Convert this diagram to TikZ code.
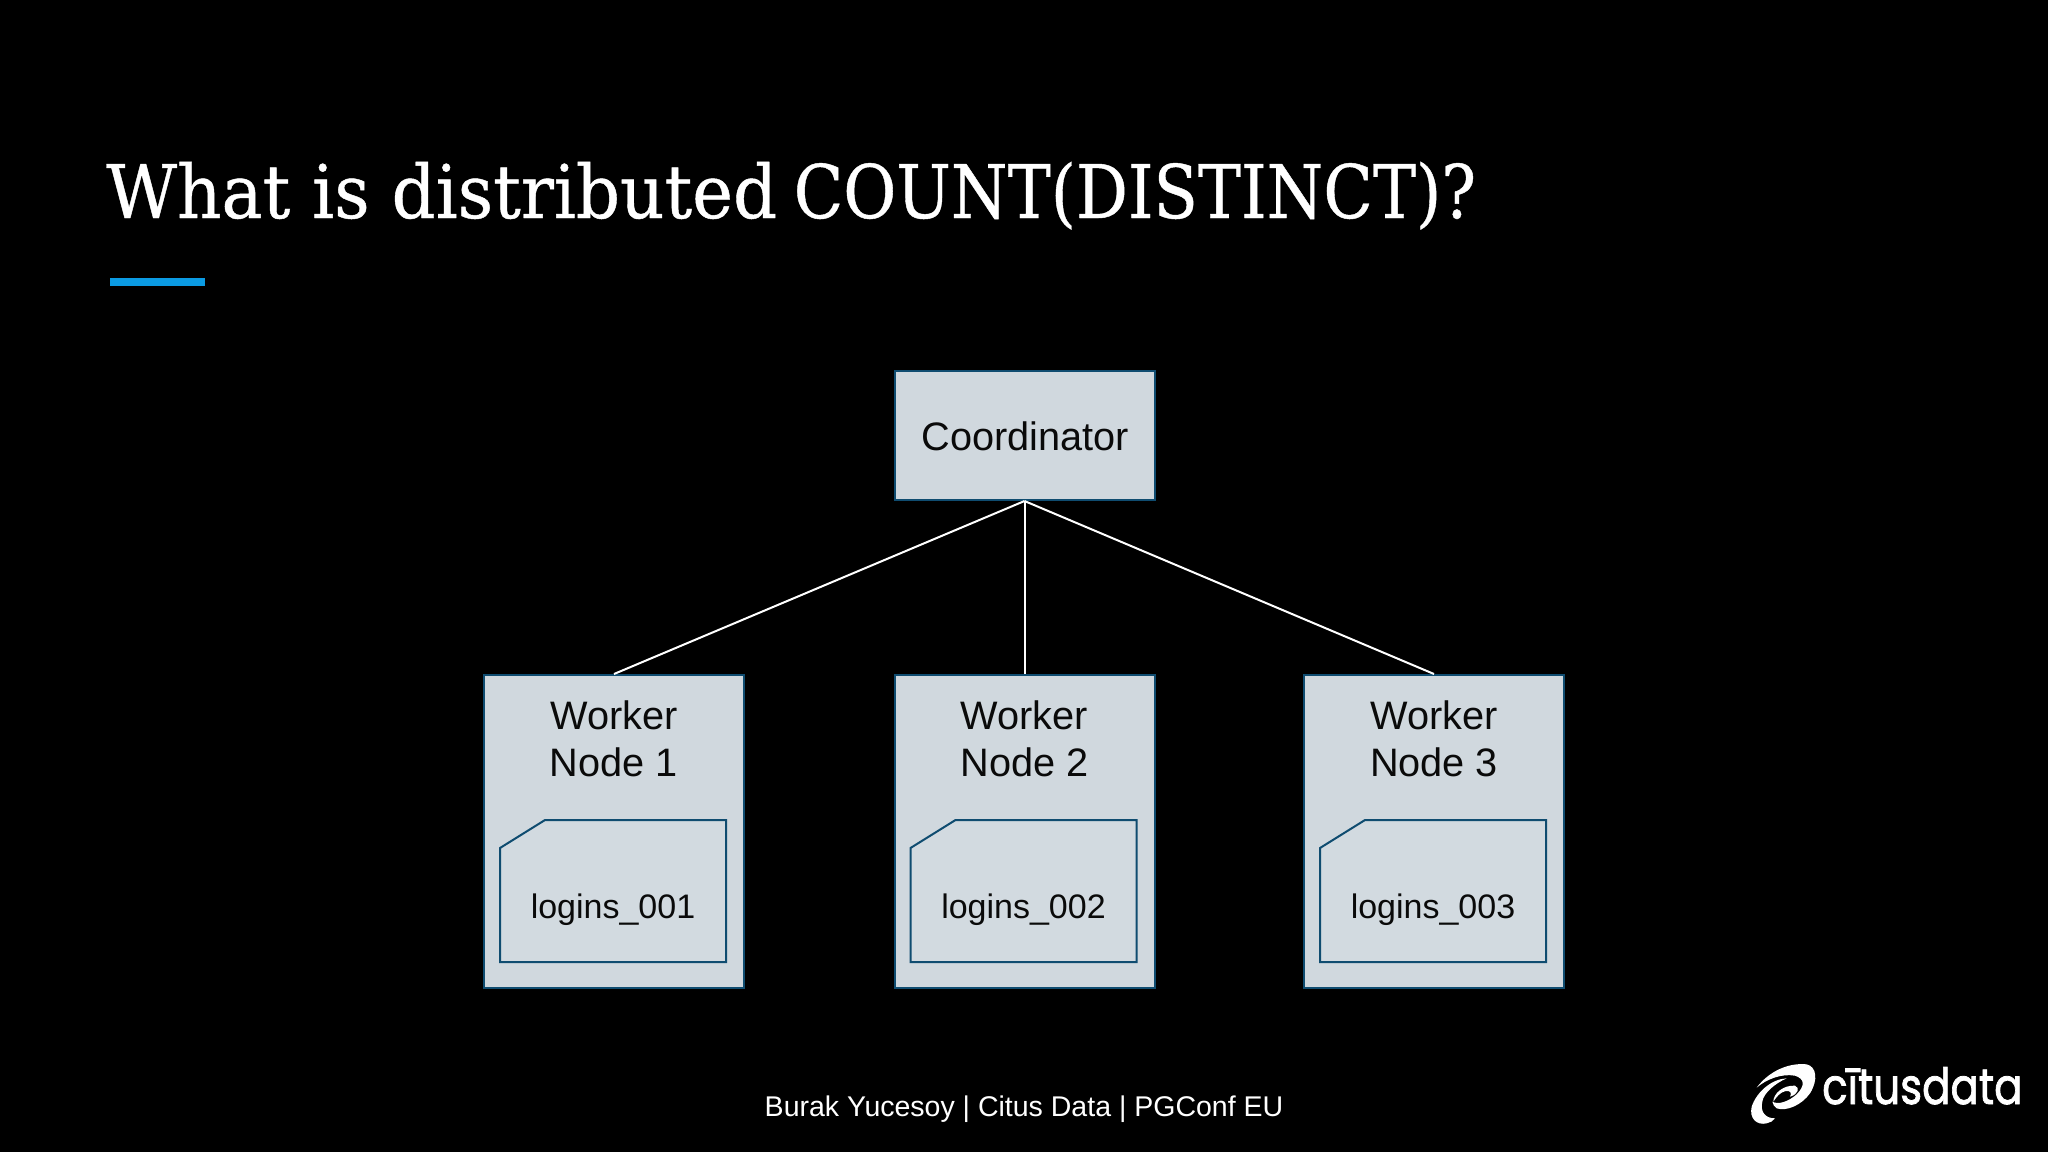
\documentclass[tikz,border=0pt]{standalone}
\usepackage{fontspec}
\setmainfont{Liberation Sans}
\newfontfamily\titlefont{DejaVu Serif}
\newfontfamily\logofont{Poppins}
\definecolor{boxfill}{HTML}{D0D8DE}
\definecolor{boxline}{HTML}{0F4C70}
\definecolor{accent}{HTML}{0B9BE3}
\definecolor{ink}{HTML}{0A0A0A}
\tikzset{
  box/.style={draw=boxline,fill=boxfill,line width=2pt,inner sep=0pt,minimum width=260pt},
  label/.style={text=ink,inner sep=0pt,align=center,anchor=base},
  link/.style={draw=white,line width=2pt},
  shard/.style={draw=boxline,line width=2pt,line join=miter}
}
\begin{document}
\begin{tikzpicture}[x=1pt,y=-1pt]
\path[use as bounding box,fill=black] (0,0) rectangle (2048,1152);
\node[anchor=base west,inner sep=0pt,text=white] (title) at (106,218)
  {\titlefont\fontsize{74}{80}\selectfont\addfontfeature{FakeBold=0.6}\scalebox{0.932}[1]{What is distributed} \hspace{-7pt}\scalebox{0.875}[1]{COUNT(DISTINCT)?}};
\fill[accent] (110,278) rectangle (205,286);

\node[box,minimum height=129pt] (coord) at (1024.5,435.5) {};
\node[label] (coordt) at (1025.5,450) {\fontsize{39.7}{39}\selectfont Coordinator};

\foreach \n/\cx in {1/614,2/1024.5,3/1434}{
  \node[box,minimum height=313pt] (w\n) at (\cx,831.5) {};
  \node[label] (w\n a) at (\cx,729) {\fontsize{39.7}{39}\selectfont Worker};
  \node[label] (w\n b) at (\cx,776) {\fontsize{39.7}{39}\selectfont Node \n};
  \draw[shard,fill=boxfill!95!white] (\cx-114,848) -- (\cx-69,820) -- (\cx+112,820) -- (\cx+112,962) -- (\cx-114,962) -- cycle;
  \node[label] (s\n) at (\cx-1,918) {\fontsize{34}{34}\selectfont logins\_00\n};
  \draw[link] (coord.south) -- (w\n.north);
}

\node[anchor=base,inner sep=0pt,text=white] (foot) at (1024,1116)
  {\fontsize{28.5}{30}\selectfont Burak Yucesoy | Citus Data | PGConf EU};

% logo swirl (crop coordinates at 3x)
\begin{scope}[shift={(1745,1055)},x=0.3333pt,y=-0.3333pt]
\fill[white] (35,98) .. controls (70,50) and (130,22) .. (185,28)
  .. controls (215,35) and (220,75) .. (195,115)
  .. controls (170,150) and (125,170) .. (95,160)
  .. controls (88,155) and (84,150) .. (82,140)
  .. controls (100,150) and (130,140) .. (155,118)
  .. controls (180,92) and (180,72) .. (150,62)
  .. controls (110,55) and (65,72) .. (35,98) -- cycle;
\fill[white] (125,70) .. controls (80,72) and (35,110) .. (20,155)
  .. controls (12,190) and (35,212) .. (65,205)
  .. controls (75,203) and (85,198) .. (90,190)
  .. controls (60,190) and (45,170) .. (52,140)
  .. controls (55,115) and (90,85) .. (125,70) -- cycle;
\fill[white] (85,140) .. controls (85,115) and (115,90) .. (150,92)
  .. controls (165,98) and (160,118) .. (135,125)
  .. controls (142,115) and (135,105) .. (122,108)
  .. controls (105,112) and (95,125) .. (85,140) -- cycle;
\end{scope}
\node[anchor=base west,inner sep=0pt,text=white,xscale=0.84] (logo) at (1822,1104)
  {\logofont\fontsize{50}{50}\selectfont\addfontfeature{FakeBold=1.6}cītusdata};
\end{tikzpicture}
\end{document}
